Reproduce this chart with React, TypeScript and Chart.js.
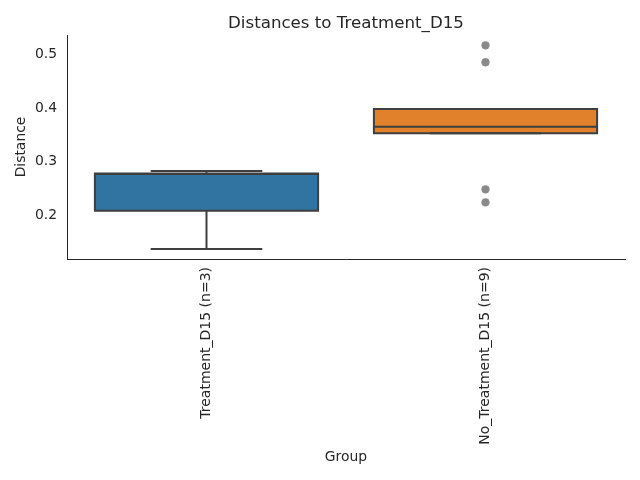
import React, { useEffect, useRef } from "react";
import { Chart, registerables } from "chart.js";

Chart.register(...registerables);

const categories = ["Treatment_D15 (n=3)", "No_Treatment_D15 (n=9)"];
const whiskerLow = [0.1376, 0.3532];
const q1 = [0.209, 0.3532];
const median = [0.2775, 0.3653];
const q3 = [0.2783, 0.3985];
const whiskerHigh = [0.2829, 0.3985];
const boxColors = ["#3274A1", "#E1812C"];
const outlierGroup = [
  "No_Treatment_D15 (n=9)",
  "No_Treatment_D15 (n=9)",
  "No_Treatment_D15 (n=9)",
  "No_Treatment_D15 (n=9)",
];
const outlierValues = [0.5171, 0.4855, 0.2488, 0.2246];
const yTicks = [0.2, 0.3, 0.4, 0.5];
const titleText = "Distances to Treatment_D15";

const LINE = "#3f3f3f";
const TEXT = "#262626";

const boxPlugin = {
  id: "boxExtras",
  afterDatasetsDraw(chart: any) {
    const meta = chart.getDatasetMeta(0);
    const y = chart.scales.y;
    const ctx = chart.ctx;
    ctx.save();
    ctx.strokeStyle = LINE;
    ctx.lineWidth = 2;
    ctx.lineCap = "butt";
    ctx.lineJoin = "miter";
    meta.data.forEach((bar: any, i: number) => {
      const cx = bar.x;
      const half = bar.width / 2;
      const capHalf = half / 2;
      const yl = y.getPixelForValue(whiskerLow[i]);
      const yh = y.getPixelForValue(whiskerHigh[i]);
      const y1 = y.getPixelForValue(q1[i]);
      const y3 = y.getPixelForValue(q3[i]);
      const ym = y.getPixelForValue(median[i]);
      ctx.beginPath();
      if (yl > y1) {
        ctx.moveTo(cx, y1);
        ctx.lineTo(cx, yl);
      }
      if (yh < y3) {
        ctx.moveTo(cx, y3);
        ctx.lineTo(cx, yh);
      }
      ctx.moveTo(cx - capHalf, yl);
      ctx.lineTo(cx + capHalf, yl);
      ctx.moveTo(cx - capHalf, yh);
      ctx.lineTo(cx + capHalf, yh);
      ctx.stroke();
      ctx.beginPath();
      ctx.rect(cx - half, y3, half * 2, y1 - y3);
      ctx.stroke();
      ctx.beginPath();
      ctx.moveTo(cx - half, ym);
      ctx.lineTo(cx + half, ym);
      ctx.stroke();
    });
    ctx.restore();
  },
  afterDraw(chart: any) {
    const ctx = chart.ctx;
    const a = chart.chartArea;
    ctx.save();
    ctx.fillStyle = TEXT;
    ctx.font = "16.67px 'DejaVu Sans', sans-serif";
    ctx.textAlign = "center";
    ctx.textBaseline = "alphabetic";
    ctx.fillText(titleText, (a.left + a.right) / 2, 27.5);
    ctx.restore();
  },
};

export default function App() {
  const ref = useRef<HTMLCanvasElement>(null);
  useEffect(() => {
    if (!ref.current) return;
    Chart.defaults.font.family = "'DejaVu Sans', sans-serif";
    Chart.defaults.color = TEXT;
    const chart = new Chart(ref.current, {
      type: "bar",
      data: {
        labels: categories,
        datasets: [
          {
            type: "bar",
            data: categories.map((_, i) => [q1[i], q3[i]]) as any,
            backgroundColor: boxColors,
            borderWidth: 0,
            barPercentage: 0.8,
            categoryPercentage: 1,
          } as any,
          {
            type: "line",
            data: outlierGroup.map((g, i) => ({ x: g, y: outlierValues[i] })) as any,
            showLine: false,
            pointRadius: 3.9,
            pointBackgroundColor: "#8a8a8a",
            pointBorderColor: "#8a8a8a",
            pointBorderWidth: 0.5,
          } as any,
        ],
      },
      options: {
        animation: false,
        responsive: false,
        devicePixelRatio: 1,
        layout: { padding: { left: 0, right: 15, top: 35, bottom: 0 } },
        plugins: {
          legend: { display: false },
          tooltip: { enabled: false },
          title: { display: false },
        },
        scales: {
          x: {
            type: "category",
            grid: { display: false, drawTicks: false },
            border: { display: true, color: TEXT, width: 1 },
            ticks: {
              minRotation: 90,
              maxRotation: 90,
              padding: 8,
              font: { size: 14 },
              color: TEXT,
            },
            title: {
              display: true,
              text: "Group",
              font: { size: 13.9 },
              color: TEXT,
              padding: { top: 0, bottom: 14.7 },
            },
            afterFit: (s: any) => {
              s.height = 221;
            },
          },
          y: {
            type: "linear",
            min: 0.119,
            max: 0.5363,
            grid: { display: false, drawTicks: false },
            border: { display: true, color: TEXT, width: 1 },
            ticks: {
              includeBounds: false,
              stepSize: 0.1,
              padding: 10,
              font: { size: 13.9 },
              color: TEXT,
              callback: (v: any) => {
                const n = Number(v);
                return yTicks.some((t) => Math.abs(t - n) < 1e-6) ? n.toFixed(1) : "";
              },
            },
            title: {
              display: true,
              text: "Distance",
              font: { size: 13.9 },
              color: TEXT,
              padding: { top: 12.7, bottom: 0 },
            },
            afterFit: (s: any) => {
              s.width = 67;
            },
          },
        },
      },
      plugins: [boxPlugin],
    });
    return () => chart.destroy();
  }, []);
  return (
    <div style={{ position: "fixed", left: 0, top: 0, width: 640, height: 480, background: "#fff" }}>
      <canvas ref={ref} width={640} height={480} style={{ width: 640, height: 480 }} />
    </div>
  );
}
